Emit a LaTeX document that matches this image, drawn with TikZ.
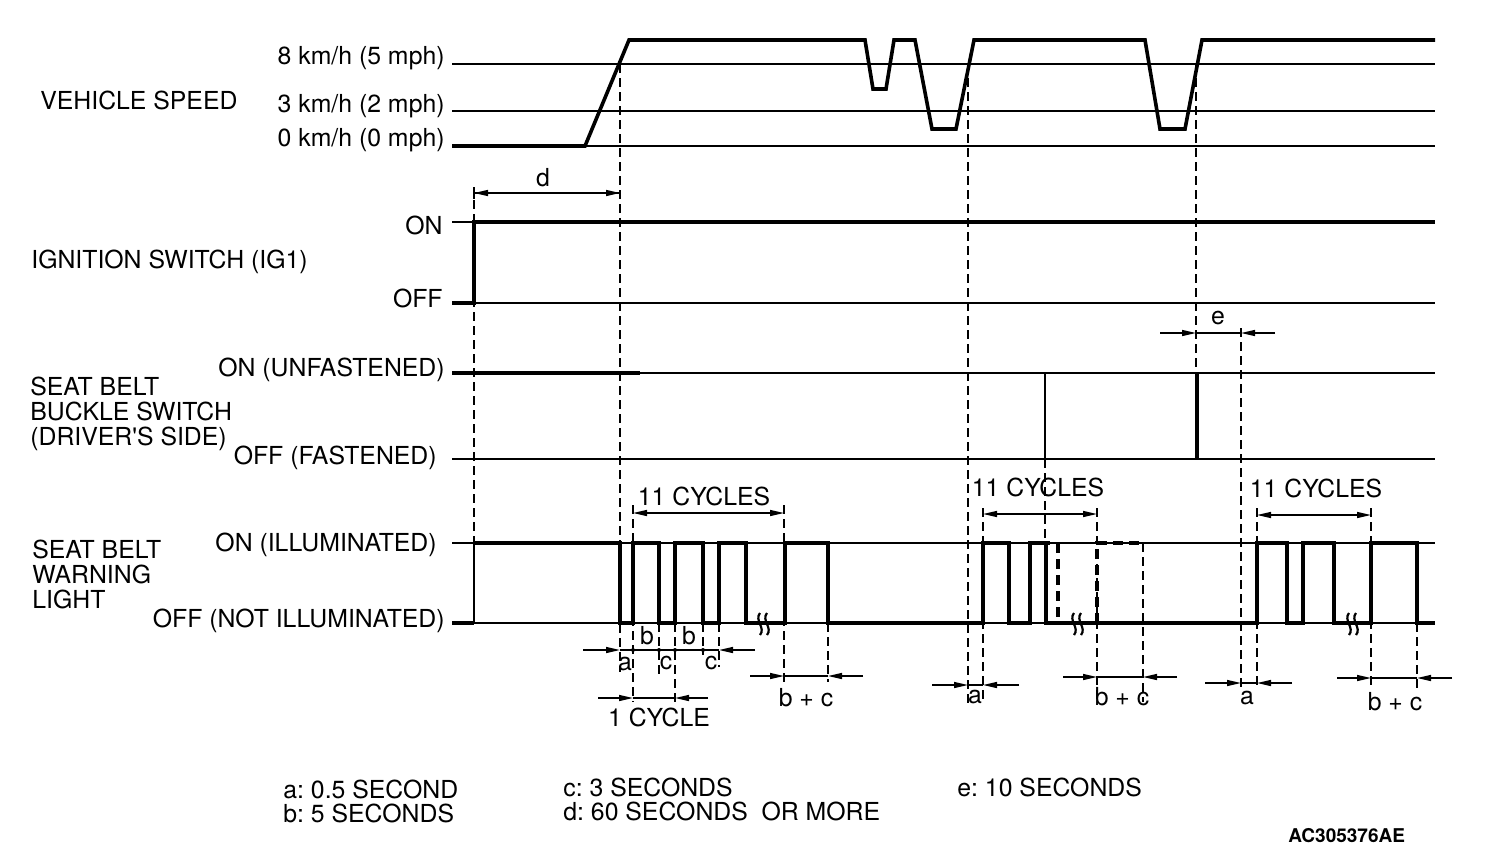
\documentclass[tikz,border=0pt]{standalone}
\usepackage{fontspec}
\setmainfont{TeX Gyre Heros}[Ligatures=TeXOff]
\usetikzlibrary{arrows.meta}
\frenchspacing
\begin{document}
\begin{tikzpicture}[x=0.5pt,y=0.5pt,>={Triangle[length=7pt,width=3pt]}]

  \tikzstyle{every node}+=[inner sep=0pt, font=\fontsize{12.4}{12.5}\selectfont]
  \tikzstyle{ref}=[black, line width=0.8pt]
  \tikzstyle{mid}=[black, line width=1.2pt]
  \tikzstyle{sig}=[black, line width=1.8pt]
  \tikzstyle{dsh}=[black, line width=1pt, dash pattern=on 4.5pt off 2.5pt]
  \tikzstyle{dshb}=[black, line width=1.7pt, dash pattern=on 5pt off 3pt]
  \tikzstyle{dim}=[black, line width=0.7pt]
  \tikzstyle{brk}=[black, line width=1.1pt]
  \useasboundingbox (0,0) rectangle (1504,-852);

  \node[anchor=west] (speed) at (40,-100) {VEHICLE SPEED};
  \node[anchor=east] (v8) at (445,-58) {8 km/h (5 mph)};
  \node[anchor=east] (v3) at (445,-106) {3 km/h (2 mph)};
  \node[anchor=east] (v0) at (445,-140) {0 km/h (0 mph)};
  \node[anchor=west] (ign) at (31,-262) {IGNITION SWITCH (IG1)};
  \node[anchor=east] (ignon) at (443,-225) {ON};
  \node[anchor=east] (ignoff) at (443,-298) {OFF};
  \node[anchor=west, align=left] (belt) at (30,-414) {SEAT BELT\\BUCKLE SWITCH\\(DRIVER'S SIDE)};
  \node[anchor=east] (belton) at (445,-370) {ON (UNFASTENED)};
  \node[anchor=east] (beltoff) at (437,-458) {OFF (FASTENED)};
  \node[anchor=west, align=left] (lamp) at (32,-574) {SEAT BELT\\WARNING\\LIGHT};
  \node[anchor=east] (lampon) at (437,-545) {ON (ILLUMINATED)};
  \node[anchor=east] (lampoff) at (445,-621) {OFF (NOT ILLUMINATED)};

  \draw[ref] (452,-64) -- (1435,-64);
  \draw[ref] (452,-111) -- (1435,-111);
  \draw[ref] (452,-146) -- (1435,-146);
  \draw[sig] (452,-146) -- (585,-146) -- (629,-40) -- (865,-40) -- (873,-89) -- (886,-89) -- (894,-40) -- (915,-40) -- (932,-129) -- (956,-129) -- (974,-40) -- (1145,-40) -- (1160,-129) -- (1185,-129) -- (1202,-40) -- (1435,-40);

  \draw[dsh] (620,-64) -- (620,-672);
  \draw[dsh] (968,-64) -- (968,-703);
  \draw[dsh] (1196,-64) -- (1196,-373);
  \draw[dsh] (474,-200) -- (474,-543);
  \draw[dsh] (1241,-328) -- (1241,-690);
  \draw[dsh] (1045,-459) -- (1045,-543);
  \draw[dsh] (633,-505) -- (633,-702);
  \draw[dsh] (659,-623) -- (659,-677);
  \draw[dsh] (675,-623) -- (675,-702);
  \draw[dsh] (703,-623) -- (703,-655);
  \draw[dsh] (719,-623) -- (719,-667);
  \draw[dsh] (784,-505) -- (784,-682);
  \draw[dsh] (828,-623) -- (828,-682);
  \draw[dsh] (983,-508) -- (983,-703);
  \draw[dsh] (1097,-508) -- (1097,-702);
  \draw[dsh] (1143,-543) -- (1143,-702);
  \draw[dsh] (1257,-508) -- (1257,-690);
  \draw[dsh] (1371,-508) -- (1371,-688);
  \draw[dsh] (1417,-623) -- (1417,-688);

  \draw[->, dim] (474,-193) -- (620,-193);
  \draw[->, dim] (620,-193) -- (474,-193);
  \draw[ref] (474,-187) -- (474,-199);
  \node (dlab) at (543,-178) {d};

  \draw[ref] (452,-222) -- (474,-222);
  \draw[mid] (452,-303) -- (1435,-303);
  \draw[sig] (452,-303) -- (474,-303) -- (474,-222) -- (1435,-222);

  \draw[ref] (452,-373) -- (1435,-373);
  \draw[sig] (452,-373) -- (640,-373);
  \draw[mid] (452,-459) -- (1435,-459);
  \draw[mid] (1045,-373) -- (1045,-459);
  \draw[sig] (1197,-373) -- (1197,-459);
  \draw[->, dim] (1160,-333) -- (1196,-333);
  \draw[dim] (1196,-333) -- (1241,-333);
  \draw[->, dim] (1275,-333) -- (1241,-333);
  \node (elab) at (1218,-318) {e};

  \draw[ref] (452,-543) -- (1435,-543);
  \draw[ref] (452,-623) -- (1435,-623);
  \draw[mid] (474,-623) -- (474,-543);
  \draw[sig] (452,-623) -- (474,-623);
  \draw[sig] (474,-543) -- (620,-543) -- (620,-623) -- (633,-623) -- (633,-543) -- (659,-543) -- (659,-623) -- (675,-623) -- (675,-543) -- (703,-543) -- (703,-623) -- (719,-623) -- (719,-543) -- (746,-543) -- (746,-623) -- (785,-623) -- (785,-543) -- (828,-543) -- (828,-623) -- (983,-623) -- (983,-543) -- (1009,-543) -- (1009,-623) -- (1030,-623) -- (1030,-543) -- (1050,-543);
  \draw[sig] (1046,-543) -- (1046,-623) -- (1257,-623) -- (1257,-543) -- (1287,-543) -- (1287,-623) -- (1303,-623) -- (1303,-543) -- (1334,-543) -- (1334,-623) -- (1371,-623) -- (1371,-543) -- (1417,-543) -- (1417,-623) -- (1435,-623);
  \draw[dshb] (1058,-543) -- (1058,-620);
  \draw[dshb] (1097,-623) -- (1097,-543) -- (1143,-543);

  \draw[brk] (760,-613) .. controls (754,-620) and (766,-628) .. (760,-635);
  \draw[brk] (767,-613) .. controls (761,-620) and (773,-628) .. (767,-635);
  \draw[brk] (1074,-613) .. controls (1068,-620) and (1080,-628) .. (1074,-635);
  \draw[brk] (1081,-613) .. controls (1075,-620) and (1087,-628) .. (1081,-635);
  \draw[brk] (1349,-613) .. controls (1343,-620) and (1355,-628) .. (1349,-635);
  \draw[brk] (1356,-613) .. controls (1350,-620) and (1362,-628) .. (1356,-635);

  \draw[<->, dim] (633,-513) -- (784,-513);
  \node (cyc1) at (704,-496) {11 CYCLES};
  \draw[->, dim] (583,-650) -- (620,-650);
  \draw[dim] (620,-650) -- (719,-650);
  \draw[->, dim] (755,-650) -- (719,-650);
  \fill (633,-650) circle (2);
  \fill (659,-650) circle (2);
  \fill (675,-650) circle (2);
  \fill (703,-650) circle (2);
  \node (a1) at (625,-664) {a};
  \node (b1) at (647,-636) {b};
  \node (c1) at (666,-663) {c};
  \node (b2) at (689,-636) {b};
  \node (c2) at (711,-663) {c};
  \draw[->, dim] (598,-698) -- (633,-698);
  \draw[dim] (633,-698) -- (675,-698);
  \draw[->, dim] (708,-698) -- (675,-698);
  \node (onecyc) at (659,-717) {1 CYCLE};
  \draw[->, dim] (750,-676) -- (784,-676);
  \draw[dim] (784,-676) -- (828,-676);
  \draw[->, dim] (863,-676) -- (828,-676);
  \node (bc1) at (806,-698) {b + c};

  \draw[<->, dim] (983,-514) -- (1097,-514);
  \node (cyc2) at (1038,-487) {11 CYCLES};
  \draw[->, dim] (932,-685) -- (968,-685);
  \draw[dim] (968,-685) -- (983,-685);
  \draw[->, dim] (1019,-685) -- (983,-685);
  \node (a2) at (975,-697) {a};
  \draw[->, dim] (1063,-677) -- (1097,-677);
  \draw[dim] (1097,-677) -- (1143,-677);
  \draw[->, dim] (1177,-677) -- (1143,-677);
  \node (bc2) at (1122,-697) {b + c};

  \draw[<->, dim] (1257,-515) -- (1371,-515);
  \node (cyc3) at (1316,-488) {11 CYCLES};
  \draw[->, dim] (1205,-683) -- (1241,-683);
  \draw[dim] (1241,-683) -- (1257,-683);
  \draw[->, dim] (1292,-683) -- (1257,-683);
  \node (a3) at (1247,-698) {a};
  \draw[->, dim] (1337,-678) -- (1371,-678);
  \draw[dim] (1371,-678) -- (1417,-678);
  \draw[->, dim] (1452,-678) -- (1417,-678);
  \node (bc3) at (1395,-702) {b + c};

  \node[anchor=west] (ka) at (283,-789) {a: 0.5 SECOND};
  \node[anchor=west] (kb) at (283,-813) {b: 5 SECONDS};
  \node[anchor=west] (kc) at (563,-787) {c: 3 SECONDS};
  \node[anchor=west] (kd) at (563,-811) {d: 60 SECONDS\ \ OR MORE};
  \node[anchor=west] (ke) at (957,-787) {e: 10 SECONDS};
  \node[anchor=west, font=\fontsize{9.5}{10}\selectfont\bfseries] (code) at (1288,-836) {AC305376AE};

\end{tikzpicture}
\end{document}
